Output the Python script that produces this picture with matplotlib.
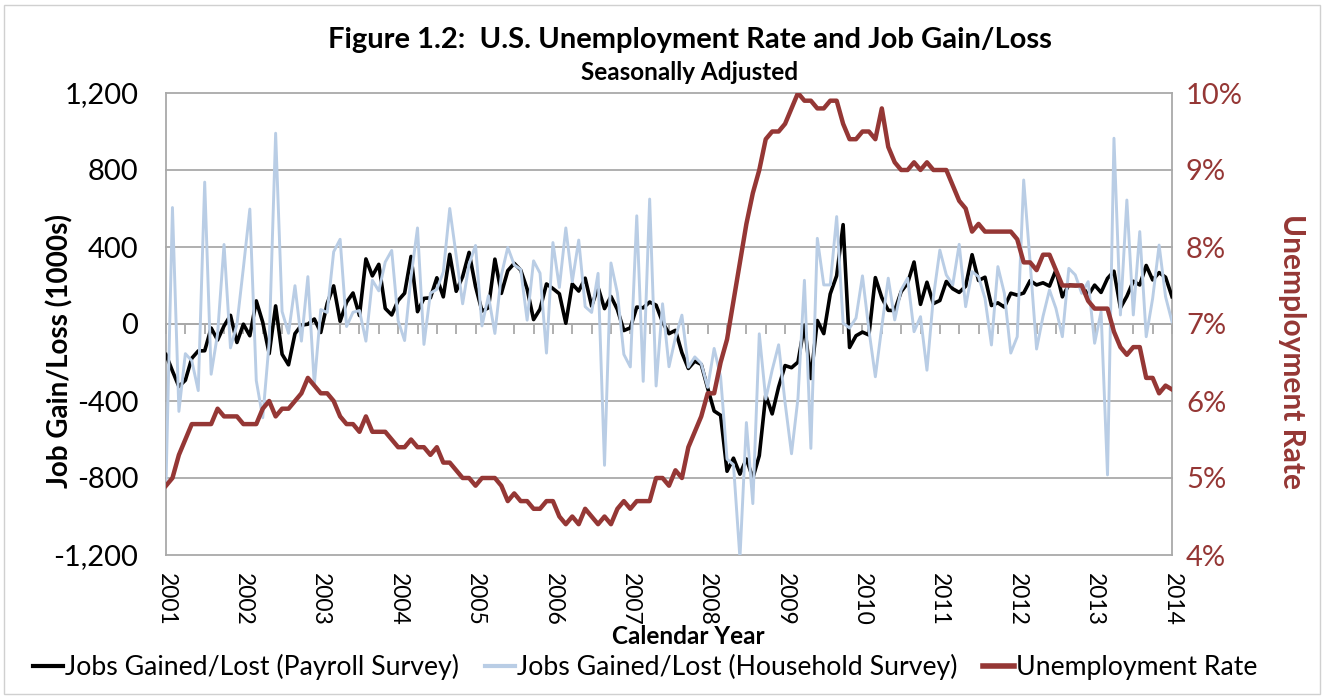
import numpy as np
import matplotlib
matplotlib.use("Agg")
import matplotlib.pyplot as plt
from matplotlib.patches import Rectangle
from matplotlib.lines import Line2D

plt.rcParams['font.family'] = ['Lato', 'DejaVu Sans']

# ---- data (monthly, 157 points; axis labelled 2001..2014 every 12 points) ----
year_labels = [str(y) for y in range(2001, 2015)]

unemployment_rate = [
    4.9, 5.0, 5.3, 5.5, 5.7,
    5.7, 5.7, 5.7, 5.9, 5.8, 5.8, 5.8, 5.7, 5.7, 5.7, 5.9, 6.0,
    5.8, 5.9, 5.9, 6.0, 6.1, 6.3, 6.2, 6.1, 6.1, 6.0, 5.8, 5.7,
    5.7, 5.6, 5.8, 5.6, 5.6, 5.6, 5.5, 5.4, 5.4, 5.5, 5.4, 5.4,
    5.3, 5.4, 5.2, 5.2, 5.1, 5.0, 5.0, 4.9, 5.0, 5.0, 5.0, 4.9,
    4.7, 4.8, 4.7, 4.7, 4.6, 4.6, 4.7, 4.7, 4.5, 4.4, 4.5, 4.4,
    4.6, 4.5, 4.4, 4.5, 4.4, 4.6, 4.7, 4.6, 4.7, 4.7, 4.7, 5.0,
    5.0, 4.9, 5.1, 5.0, 5.4, 5.6, 5.8, 6.1, 6.1, 6.5, 6.8, 7.3,
    7.8, 8.3, 8.7, 9.0, 9.4, 9.5, 9.5, 9.6, 9.8, 10.0, 9.9, 9.9,
    9.8, 9.8, 9.9, 9.9, 9.6, 9.4, 9.4, 9.5, 9.5, 9.4, 9.8, 9.3,
    9.1, 9.0, 9.0, 9.1, 9.0, 9.1, 9.0, 9.0, 9.0, 8.8, 8.6, 8.5,
    8.2, 8.3, 8.2, 8.2, 8.2, 8.2, 8.2, 8.1, 7.8, 7.8, 7.7, 7.9,
    7.9, 7.7, 7.5, 7.5, 7.5, 7.5, 7.3, 7.2, 7.2, 7.2, 6.9, 6.7,
    6.6, 6.7, 6.7, 6.3, 6.3, 6.1, 6.2, 6.15,
]

payroll_jobs = [
    -159, -244, -325, -292, -178,
    -140, -139, -21, -83, -10, 45, -96, -1, -61, 120, 9, -154,
    94, -157, -212, -50, -6, -1, 26, -44, 107, 198, 14, 113,
    161, 44, 338, 250, 310, 81, 47, 122, 160, 351, 64, 133,
    136, 240, 141, 362, 170, 246, 372, 195, 67, 84, 337, 159,
    277, 315, 280, 182, 23, 77, 208, 184, 157, 4, 208, 171,
    238, 93, 190, 80, 143, 75, -34, -20, 88, 84, 114, 98,
    10, -50, -33, -149, -231, -193, -210, -334, -452, -474, -765, -697,
    -780, -701, -800, -684, -370, -467, -327, -216, -227, -198, -6, -283,
    18, -50, 156, 251, 516, -122, -61, -42, -57, 241, 137, 71,
    70, 168, 212, 322, 102, 217, 106, 122, 221, 183, 164, 196,
    360, 226, 243, 96, 110, 88, 160, 150, 161, 225, 203, 214,
    197, 280, 141, 203, 199, 201, 149, 202, 164, 237, 274, 84,
    144, 222, 203, 304, 229, 267, 243, 142,
]

household_jobs = [
    -830, 605, -454, -154, -191,
    -346, 737, -261, -51, 413, -124, -2, 292, 597, -294, -487, -95,
    991, 65, -48, 199, -89, 246, -316, 75, 60, 375, 440, -13,
    61, 70, -89, 227, 172, 322, 382, 17, -86, 245, 499, -106,
    160, 180, 270, 600, 355, 105, 312, 408, -10, 147, -49, 253,
    398, 307, 284, 20, 328, 264, -151, 423, 190, 499, 220, 436,
    90, 60, 263, -734, 317, 160, -158, -223, 562, -298, 649, -322,
    105, -222, -70, 46, -224, -171, -205, -329, -127, -274, -702, -731,
    -1217, -512, -933, -51, -390, -239, -108, -409, -674, -386, 227, -646,
    445, 203, 203, 558, 5, -21, 31, 250, -31, -274, -14, 238,
    21, 177, 238, -40, 38, -240, 140, 384, 255, 203, 414, 90,
    272, 246, 133, -109, 298, 160, -151, -66, 748, 320, -130, 40,
    177, 81, -66, 289, 255, 159, 220, -100, 64, -784, 965, 47,
    644, 47, 480, -66, 133, 410, 142, 12,
]

# ---- styling ----
W, H = 1327, 698
GRID = '#A9A9A9'
RED = '#953735'
BLUE = '#B9CDE5'

fig = plt.figure(figsize=(W / 100, H / 100), dpi=100)
fig.patch.set_facecolor('white')
fig.patches.append(Rectangle((4 / W, 4 / H), 1316 / W, 689 / H, transform=fig.transFigure,
                             fill=False, edgecolor='#D0D0D0', lw=1.0))

L, R, T, B = 166, 1172, 93, 555
ax = fig.add_axes([L / W, 1 - B / H, (R - L) / W, (B - T) / H])
x = np.arange(len(unemployment_rate))

ax.plot(x, payroll_jobs, color='black', lw=2.6, zorder=3, solid_joinstyle='round')
ax.plot(x, household_jobs, color=BLUE, lw=2.1, zorder=4, solid_joinstyle='round')

ax.set_xlim(0, len(x) - 1)
ax.set_ylim(-1200, 1200)
yt = list(range(-1200, 1201, 400))
ax.set_yticks(yt)
ax.set_yticklabels([f"{v:,}" for v in yt])
ax.tick_params(axis='y', length=0, labelsize=21, pad=20)
ax.grid(axis='y', color=GRID, lw=1.3)
for gl in ax.get_ygridlines():
    gl.set_clip_on(False)
ax.set_axisbelow(True)

for s in ('left', 'right'):
    ax.spines[s].set_color(GRID)
    ax.spines[s].set_linewidth(1.3)
ax.spines['top'].set_visible(False)
ax.spines['bottom'].set_position(('data', 0))
ax.spines['bottom'].set_color(GRID)
ax.spines['bottom'].set_linewidth(1.3)
ax.set_xticks(np.arange(0, len(x), 3))
ax.tick_params(axis='x', direction='out', length=7, width=1.3, color=GRID, labelbottom=False)

# year labels at the bottom
sec = ax.secondary_xaxis('bottom')
sec.set_xticks(np.arange(0, len(x), 12))
sec.set_xticklabels(year_labels, rotation=-90, fontsize=16.5)
sec.tick_params(length=0, pad=13)
sec.spines['bottom'].set_visible(False)

ax2 = ax.twinx()
ax2.plot(x, unemployment_rate, color=RED, lw=3.2, solid_joinstyle='round')
ax2.set_ylim(4, 10)
ax2.set_yticks(range(4, 11))
ax2.set_yticklabels([f"{v}%" for v in range(4, 11)])
ax2.tick_params(axis='y', length=0, labelsize=21, labelcolor=RED, pad=10)
for s in ax2.spines.values():
    s.set_visible(False)

# texts
fig.text(690 / W, 1 - 40 / H, 'Figure 1.2:  U.S. Unemployment Rate and Job Gain/Loss',
         ha='center', va='center', fontsize=21, fontweight='bold')
fig.text(690 / W, 1 - 72 / H, 'Seasonally Adjusted', ha='center', va='center',
         fontsize=17.5, fontweight='bold')
fig.text(60 / W, 1 - 351 / H, 'Job Gain/Loss (1000s)', rotation=90, ha='center', va='center',
         fontsize=20, fontweight='bold')
fig.text(1292 / W, 1 - 351 / H, 'Unemployment Rate', rotation=-90, ha='center', va='center',
         fontsize=21.5, fontweight='bold', color=RED)
fig.text(688 / W, 1 - 637 / H, 'Calendar Year', ha='center', va='center',
         fontsize=17.5, fontweight='bold')

handles = [Line2D([], [], color='black', lw=3),
           Line2D([], [], color=BLUE, lw=3),
           Line2D([], [], color=RED, lw=4)]
labels = ['Jobs Gained/Lost (Payroll Survey)', 'Jobs Gained/Lost (Household Survey)',
          'Unemployment Rate']
fig.legend(handles, labels, loc='center', bbox_to_anchor=(645 / W, 1 - 667 / H), ncol=3,
           frameon=False, fontsize=19.2, handlelength=1.14, handletextpad=0.08,
           columnspacing=0.95, borderpad=0, borderaxespad=0)

fig.savefig('out.png', dpi=100)
